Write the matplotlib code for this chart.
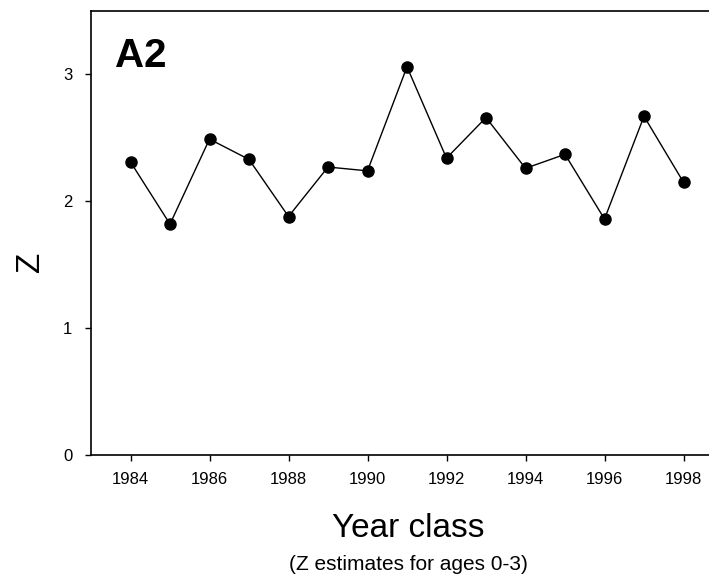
import numpy as np
import matplotlib.pyplot as plt

plt.rcParams['font.family'] = ['Liberation Sans', 'DejaVu Sans']

#Data
years = [1984, 1985, 1986, 1987, 1988, 1989, 1990, 1991, 1992, 1993, 1994, 1995, 1996, 1997, 1998]
z_vals = [2.31, 1.82, 2.49, 2.33, 1.88, 2.27, 2.24, 3.06, 2.34, 2.66, 2.26, 2.37, 1.86, 2.67, 2.15]
x_ticks = [1984, 1986, 1988, 1990, 1992, 1994, 1996, 1998]
y_ticks = [0, 1, 2, 3]

fig = plt.figure(figsize=(7.09, 5.77), dpi=100)
W, H = 709, 577
ax = fig.add_axes([91 / W, 1 - 455 / H, 632 / W, 444 / H])

ax.plot(years, z_vals, color='black', linewidth=1, marker='o', markersize=8,
        markerfacecolor='black', markeredgecolor='black')

ax.set_xlim(1983, 1999)
ax.set_ylim(0, 3.5)
ax.set_xticks(x_ticks)
ax.set_yticks(y_ticks)
ax.tick_params(axis='both', direction='out', length=4.5, width=1, labelsize=12)
ax.tick_params(axis='x', pad=8)
ax.tick_params(axis='y', pad=9)
ax.spines['right'].set_visible(False)
for s in ['left', 'bottom', 'top']:
    ax.spines[s].set_linewidth(1.2)

fig.text(115 / W, 1 - 67 / H, 'A2', fontsize=29, fontweight='bold', ha='left', va='baseline')
fig.text(31 / W, 1 - 262 / H, 'Z', fontsize=24, rotation=90, ha='center', va='center')
fig.text(408 / W, 1 - 537 / H, 'Year class', fontsize=24, ha='center', va='baseline')
fig.text(408 / W, 1 - 570 / H, '(Z estimates for ages 0-3)', fontsize=15, ha='center', va='baseline')

fig.savefig('out.png', dpi=100)
